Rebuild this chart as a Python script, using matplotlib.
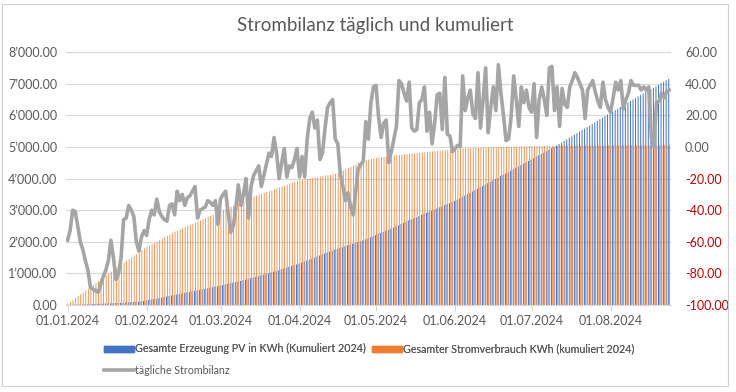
import numpy as np
import matplotlib
matplotlib.use("Agg")
import matplotlib.pyplot as plt
from matplotlib.patches import Patch, Rectangle
from matplotlib.lines import Line2D
import matplotlib.ticker as mticker

plt.rcParams['font.family'] = ['Lato', 'DejaVu Sans']

# Daily PV production (kWh), Jan 1 - Aug 24 2024 -> cumulated in chart
pv_jan = [2,3,3,2,2,3,3,2,3,3,3,3,3,3,3,4,4,4,4,3,4,4,5,5,6,5,5,6,5,10,13]
pv_feb = [12,15,15,15,15,15,17,16,17,17,17,17,17,17,16,16,16,16,16,17,15,16,16,16,17,18,17,18,18]
pv_mar = [18,18,18,18,18,18,18,18,20,20,20,22,22,22,22,22,23,23,24,24,24,24,24,24,26,26,26,26,26,28,22]
pv_apr = [30,30,30,32,32,32,32,32,32,32,32,32,32,30,30,28,26,26,26,26,26,26,26,27,27,28,32,32,34,34]
pv_may = [36,34,34,32,38,35,30,33,36,40,40,38,36,40,30,32,33,36,38,40,30,36,28,32,38,38,30,40,32,30,34]
pv_jun = [38,40,40,45,42,44,40,48,42,46,40,44,44,46,40,48,46,42,50,44,38,40,46,44,48,40,42,44,46,44]
pv_jul = [44,46,42,44,46,44,42,46,44,42,48,50,46,50,48,52,48,46,50,48,50,52,48,46,50,48,50,52,48,50,48]
pv_aug = [48,50,46,48,50,48,44,48,50,48,46,48,50,46,48,44,42,46,48,46,48,46,48,46]

# Daily consumption (kWh)
use_jan = [48,55,56,58,60,58,60,62,60,62,60,58,60,62,60,58,58,60,58,56,58,58,56,56,54,56,58,58,56,56,54]
use_feb = [46,44,44,44,44,44,44,44,44,44,44,45,36,36,36,36,36,36,36,36,36,36,36,36,38,35,35,35,35]
use_mar = [32,33,32,33,40,40,40,40,40,40,40,40,28,28,28,28,28,28,28,28,28,28,28,28,24,32,32,32,31,31,32]
use_apr = [15,15,15,15,15,15,15,15,15,15,14,14,14,14,14,36,36,36,36,36,38,38,38,38,39,39,20,20,20,20]
use_may = [11,11,11,11,11,11,11,11,12,8,8,9,8,8,9,8,9,8,9,8,9,9,8,8,8,8,8,8,7,8,7]
use_jun = [8,7,8,7,4,4,3,4,3,4,4,3,4,3,4,2,2,2,2,2,3,2,2,2,2,2,3,2,2,2]
use_jul = [1,1,2,1,1,1,2,1,1,1,1,2,1,1,1,2,1,1,1,1,0,1,0,1,0,1,0,1,0,1,0]
use_aug = [0,1,0,0,1,0,0,1,0,0,1,0,0,1,0,0,1,0,0,1,0,0,1,1]

# Daily balance (kWh), right axis
bal_jan = [-59,-53,-40,-41,-50,-60,-65,-72,-78,-89,-90,-91,-92,-87,-82,-78,-72,-59,-70,-84,-80,-70,-46,-45,-37,-40,-44,-60,-66,-57,-53]
bal_feb = [-56,-46,-40,-43,-33,-41,-44,-46,-47,-37,-36,-43,-28,-34,-30,-37,-32,-31,-28,-25,-45,-40,-39,-38,-34,-35,-37,-34,-49]
bal_mar = [-33,-30,-28,-42,-54,-50,-39,-24,-37,-30,-20,-45,-25,-18,-15,-12,-25,-18,-11,-4,-6,6,-4,-20,-10,-1,-19,-12,-13,-8,-1]
bal_apr = [-19,-6,-19,5,18,22,12,17,-8,-4,12,25,28,30,5,2,-17,-25,-34,-29,-38,-43,-29,-14,-11,-9,16,5,28,38]
bal_may = [39,19,6,15,17,-10,-3,5,13,42,40,34,29,41,12,10,11,28,30,38,10,22,2,15,33,34,11,44,8,7,-3]
bal_jun = [-1,1,0,45,23,31,36,21,18,47,12,30,50,9,25,38,23,52,34,20,4,5,19,45,30,13,38,28,36,25]
bal_jul = [22,40,6,30,38,30,20,50,51,23,38,13,37,27,25,38,42,47,44,40,36,18,36,39,42,35,29,25,41,30,25]
bal_aug = [22,31,41,36,42,24,30,34,42,39,39,39,36,38,36,38,6,0,28,29,34,31,35,36]

month_labels = ['01.01.2024','01.02.2024','01.03.2024','01.04.2024',
                '01.05.2024','01.06.2024','01.07.2024','01.08.2024']
month_starts = ['2024-01-01','2024-02-01','2024-03-01','2024-04-01',
                '2024-05-01','2024-06-01','2024-07-01','2024-08-01']

pv_daily = pv_jan + pv_feb + pv_mar + pv_apr + pv_may + pv_jun + pv_jul + pv_aug
use_daily = use_jan + use_feb + use_mar + use_apr + use_may + use_jun + use_jul + use_aug
balance = bal_jan + bal_feb + bal_mar + bal_apr + bal_may + bal_jun + bal_jul + bal_aug

pv_cum = np.cumsum(pv_daily)
use_cum = np.cumsum(use_daily)
days = np.arange(len(pv_cum))
start = np.datetime64('2024-01-01')
tick_pos = [(np.datetime64(m) - start).astype(int) for m in month_starts]

BLUE = '#4472C4'
ORANGE = '#ED7D31'
GRAY_LINE = '#A5A5A5'
TXT = '#595959'
GRID = '#D9D9D9'

fig = plt.figure(figsize=(7.36, 3.92), dpi=100)
fig.patches.append(Rectangle((0.003, 0.015), 0.986, 0.975, transform=fig.transFigure,
                             fill=False, edgecolor='#D0D0D0', linewidth=0.8))
ax = fig.add_axes([0.089, 0.222, 0.823, 0.645])
wb, wo = 0.38, 0.30
ax.bar(days - wb/2, pv_cum, width=wb, color=BLUE, linewidth=0, zorder=2, snap=False)
ax.bar(days + wo/2, use_cum, width=wo, color=ORANGE, linewidth=0, zorder=2, snap=False)
ax.set_ylim(0, 8000)
ax.set_xlim(-0.8, len(days) - 0.2)
ax.set_yticks(np.arange(0, 8001, 1000))
ax.yaxis.set_major_formatter(mticker.FuncFormatter(lambda v, p: f"{v:,.2f}".replace(',', '\u2019')))
ax.grid(axis='y', color=GRID, linewidth=0.9, zorder=0)
ax.set_axisbelow(True)
for s in ['top', 'right', 'left']:
    ax.spines[s].set_visible(False)
ax.spines['bottom'].set_color(GRID)
ax.tick_params(axis='y', length=0, pad=6, labelsize=9, labelcolor=TXT)
ax.set_xticks(tick_pos)
ax.set_xticklabels(month_labels)
ax.tick_params(axis='x', length=4, color=GRID, pad=3, labelsize=9, labelcolor=TXT)

ax2 = ax.twinx()
ax2.plot(days, balance, color=GRAY_LINE, linewidth=2.6, solid_joinstyle='round', zorder=3)
ax2.set_ylim(-100, 60)
ax2.set_yticks(np.arange(-100, 61, 20))
ax2.yaxis.set_major_formatter(mticker.FuncFormatter(lambda v, p: f"{v:.2f}"))
for s in ['top', 'right', 'left', 'bottom']:
    ax2.spines[s].set_visible(False)
ax2.tick_params(axis='y', length=0, pad=10, labelsize=9)
for lbl, v in zip(ax2.get_yticklabels(), np.arange(-100, 61, 20)):
    lbl.set_color('#C00000' if v < 0 else TXT)

fig.text(0.51, 0.935, 'Strombilanz täglich und kumuliert', ha='center', va='center',
         fontsize=13.5, color=TXT)

handles1 = [Patch(color=BLUE), Patch(color=ORANGE)]
leg1 = fig.legend(handles1, ['Gesamte Erzeugung PV in KWh (Kumuliert 2024)',
                             'Gesamter Stromverbrauch KWh (kumuliert 2024)'],
                  loc='center left', bbox_to_anchor=(0.128, 0.11), ncol=2, frameon=False,
                  fontsize=7.7, handlelength=2.8, handleheight=0.5, handletextpad=0.1,
                  columnspacing=0.6, labelcolor=TXT)
leg2 = fig.legend([Line2D([0], [0], color=GRAY_LINE, linewidth=2.6)], ['tägliche Strombilanz'],
                  loc='center left', bbox_to_anchor=(0.128, 0.055), frameon=False,
                  fontsize=7.7, handlelength=2.8, handletextpad=0.1, labelcolor=TXT)
fig.add_artist(leg1)

fig.savefig('out.png', dpi=100)
